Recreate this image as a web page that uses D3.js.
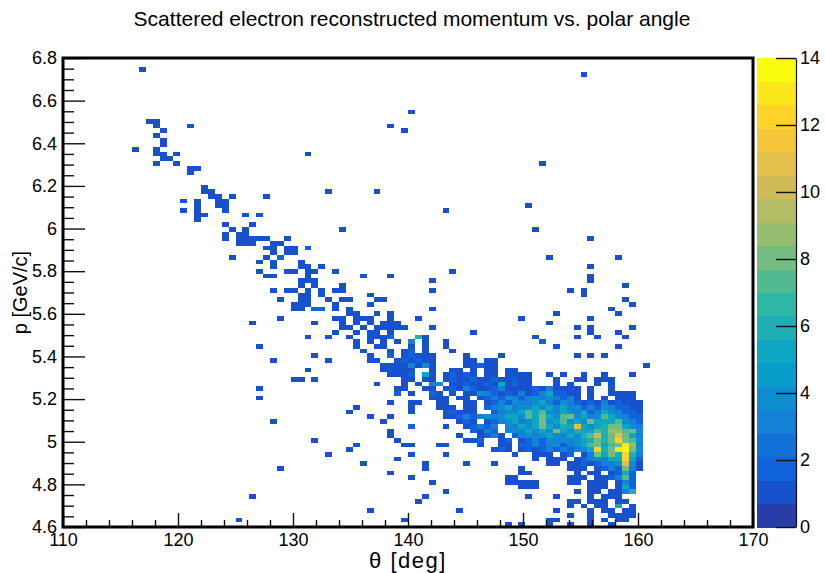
<!DOCTYPE html>
<html>
<head>
<meta charset="utf-8">
<script src="https://cdn.jsdelivr.net/npm/d3@7"></script>
<style>
  body { margin: 0; background: #fff; }
  text { font-family: "Liberation Sans", Arial, Helvetica, sans-serif; fill: #000; }
</style>
</head>
<body>
<svg id="chart" width="825" height="573"></svg>
<script>
// Histogram binning: 100 x 100 bins over theta [110,170] deg and p [4.6,6.8] GeV/c
const thetaDomain = [110, 170];
const pDomain = [4.6, 6.8];
const thetaBinCount = 100;
const pBinCount = 100;
const zDomain = [0, 14];
const contourLevels = 20;

const thetaMajorTicks = [110, 120, 130, 140, 150, 160, 170];
const pMajorTicks = [4.6, 4.8, 5, 5.2, 5.4, 5.6, 5.8, 6, 6.2, 6.4, 6.6, 6.8];
const zTicks = [0, 2, 4, 6, 8, 10, 12, 14];

// Bin contents, one string per p bin: "pBin: thetaBin thetaBin:count ..."
// (a bare theta bin holds one entry)
const binRows = [
  "97: 11",
  "96: 75",
  "88: 50",
  "86: 12 13",
  "85: 13 18 47",
  "84: 14 49",
  "83: 13",
  "82: 14",
  "81: 14",
  "80: 10 13",
  "79: 13 14 16 35",
  "78: 14 15",
  "77: 13 16 69",
  "76: 18 19",
  "75: 18",
  "72: 20",
  "71: 20 21 38 45",
  "70: 21 22 24 29",
  "69: 17 19 22 23",
  "68: 19 22 23 67",
  "67: 17 19 23 55",
  "66: 19 20 26 28",
  "65: 19",
  "64: 23 27",
  "63: 24 26 40 68",
  "62: 23 25 26",
  "61: 23 25 26 27 28 29 32 76",
  "60: 25 26 27 30 31",
  "59: 29 30 32 33 35:2",
  "58: 30 32 33",
  "57: 24 29 31:2 70 80",
  "56: 28 30 34",
  "55: 30 34 35 37 76",
  "54: 28 32 33 35 36 39 56",
  "53: 29 30 35 43 47 76",
  "52: 34 35 36 53 76",
  "51: 34 36 40 81",
  "50: 30 32 33 35 37 39 40 53 73 75",
  "49: 34 35 37 44 75",
  "48: 31 34 35 38 40 41 45 46 81",
  "47: 33 34 35 39 44 82",
  "46: 33 34 36:2 37:2 39 41 53 79",
  "45: 41 42 45 47 71 80",
  "44: 31 39 40 42 43 44 47 51 66 76",
  "43: 27 36 40 42 44 46 47 48 70",
  "42: 40 41 43 45 46 47 48 49 53 74 76 82",
  "41: 39 42 44 45 47 59 76 80",
  "40: 35 38 41 44 45 46 47:2 51:6 52 68 74 77 81",
  "39: 42 44 46 48 50:3 52 55 69:2",
  "38: 28 42 45 46 50 52 55 71 80",
  "37: 43 47 49 50:2 52 56",
  "36: 36 44 47:2 49 50:2 51 52 53 58 63 74 76 78",
  "35: 30 38 44 45 48 49:2 50 51:2 52 53 58 59 61 62",
  "34: 46 47 48 49 50:3 51 52:4 53 58 59 60:2 61 62 84",
  "33: 35 46 47 48 49 50 53 56 57 59 61 62 64 65",
  "32: 47 48 49 50:2 52:5 53 55 56:2 57 58:2 59 61 62 64 65 66 67 70 72 75 78 82",
  "31: 33 34 36 49 50 52 53 55 56:2 57 58 59:2 60 61 62:2 63 64 65:2 66 67 71 74 75 77 78 79",
  "30: 45 49 51 53:3 54:4 56 57 58:2 59 60 61:2 62 63:5 64 65:2 66 67 71 73 77 79",
  "29: 28 48 49 52 53 55 56:2 57 58:3 59:2 60 61 62:2 63:3 64 65 66 67 68:2 69 70:3 71 72 73 74 76 79",
  "28: 48:2 50 53:2 54 56 58 59 60:4 61:3 62:2 63 64:2 65 66:3 67 68:2 69:3 70:5 71:2 72:2 73 74 76 79 80 81 82",
  "27: 28 53 54 55 57 58 60 61:2 62:3 63:2 64:4 65:3 66:2 67:3 68:4 69:3 70:4 71:3 72:2 73:3 74 76 78 80 81 82",
  "26: 47 50 51 54 55 58 59 61 62:2 63:3 64:2 65:4 66:3 67:3 68:4 69:5 70:3 71:2 72:4 73:3 74:2 75 76:2 77 78:3 79 80:2 81 82 83",
  "25: 42 50 54 55 56 58 59 61:2 62:3 63:4 64:5 65:3 66:4 67:4 68:5 69:4 70:5 71:3 72:5 73:3 74:4 75:2 76:3 77:2 78:4 79:3 80:2 81:2 82 83",
  "24: 41 50 55 56:2 57 58 59 62:2 63:3 64:4 65:4 66:5 67:7 68:5 69:7 70:4 71:3 72:5 73:4 74:3 75:5 76:2 77:3 78:5 79:4 80:3 81:2 82:2 83",
  "23: 44 47 55 56 57:2 58:3 59:2 60:3 61:4 62:3 63:4 64:5 65:5 66:4 67:7 68:5 69:8 70:5 71:4 72:7 73:8 74:4 75:5 76:3 77:4 78:7 79:5 80:4 81:3 82:2 83:2",
  "22: 30 46 57 58:2 59 61 62:2 63:3 64:4 65:5 66:3 67:4 68:5 69:8 70:4 71:5 72:7 73:4 74:5 75:4 76:8 77:5 78:5 79:5 80:7 81:4 82:3 83:2",
  "21: 50:2 55 58 59:2 60:3 61:2 62:3 64:4 65:3 66:5 67:4 68:5 69:8 70:5 71:4 72:6 73:5 74:11 75:5 76:4 77:5 78:6 79:8 80:8 81:5 82:4 83:3",
  "20: 47 59:2 60 61:3 62:2 64:3 65:4 66:3 67:5 68:4 69:5 70:4 71:8 72:5 73:4 74:6 75:5 76:5 77:7 78:6 79:9 80:9 81:7 82:8 83:4",
  "19: 47 57 60 61:2 62:3 63 65:2 66:3 67:4 68:3 69:4 70:5 71:4 72:3 73:5 74:4 75:6 76:7 77:10 78:6 79:8 80:11 81:8 82:5 83:3",
  "18: 36 48 58 59 60:2 63 64:2 66 67:2 68:3 69:2 70:4 71:3 72:4 73:3 74:4 75:5 76:6 77:8 78:6 79:8 80:12 81:8 82:7 83:4",
  "17: 42 49 50 54 55 60 63 64 66:2 67:2 68:3 69:2 70:3 71:4 72:2 73:3 74:4 75:5 76:7 77:8 78:5 79:7 80:8 81:13 82:9 83:3",
  "16: 41 62 63:2 64 66 67:2 68 69:2 70:3 71:2 72:3 73:2 74:3 75:4 76:5 77:12 78:6 79:8 80:13 81:14 82:8 83:4",
  "15: 38 50 55 65 68 69 70 72 73:2 75 76:3 77:8 78:5 79:8 80:6 81:12 82:6 83:3",
  "14: 48 68 70 71 72 74 75:2 76:3 77:4 78:3 79:5 80:5 81:12 82:5 83:2",
  "13: 43 52 58 62 70 71 73 74 75:2 76 77:2 78:3 79:3 80:4 81:11 82:4 83",
  "12: 31 52 66 73 74 75 77 78:2 79:3 80:2 81:8 82:3 83",
  "11: 47 66 67 74 76 77 79 80:2 81:5 82:2",
  "10: 50 64 65 73 74 75 77 78 79:2 80:3 81:7 82:2",
  "9: 53 64 65 66 67 68 73 74 76 77 78 80 81:3 82:2",
  "8: 66 67 68 76 77 78 80 81:5 82:2",
  "7: 55 74 76 77 79 80 81:3 82:6",
  "6: 27 52 67 71 76 78 79 80",
  "5: 51 73 74 76 77 78 80 81",
  "4: 73 75 77 78 80:5 82",
  "3: 44 57 71 76 78 79 81 82",
  "2: 73 76 79 80 81 82",
  "1: 25 49 70 71 76 78 80 81",
  "0: 64 66 70 73 76 79"
];

// ---- parse bins ----
const cells = [];
binRows.forEach(row => {
  const k = row.indexOf(":");
  const pBin = +row.slice(0, k);
  row.slice(k + 1).trim().split(/\s+/).forEach(tok => {
    const [t, c] = tok.split(":");
    cells.push({ tBin: +t, pBin: pBin, count: c === undefined ? 1 : +c });
  });
});

const thetaWidth = (thetaDomain[1] - thetaDomain[0]) / thetaBinCount;
const pWidth = (pDomain[1] - pDomain[0]) / pBinCount;

// ---- layout ----
const frame = { left: 63, right: 753, top: 58, bottom: 527 };
const palette = { left: 757, right: 796 };

const svg = d3.select("#chart");

const x = d3.scaleLinear().domain(thetaDomain).range([frame.left, frame.right]);
const y = d3.scaleLinear().domain(pDomain).range([frame.bottom, frame.top]);
const z = d3.scaleLinear().domain(zDomain).range([frame.bottom, frame.top]);

// ROOT "bird" colour palette
const birdStops = [0.0, 0.125, 0.25, 0.375, 0.5, 0.625, 0.75, 0.875, 1.0];
const birdR = [0.2082, 0.0592, 0.0780, 0.0232, 0.1802, 0.5301, 0.8186, 0.9956, 0.9764];
const birdG = [0.1664, 0.3599, 0.5041, 0.6419, 0.7178, 0.7492, 0.7328, 0.7862, 0.9832];
const birdB = [0.5293, 0.8684, 0.8385, 0.7914, 0.6425, 0.4662, 0.3499, 0.1968, 0.0539];
const bird = d3.scaleLinear()
  .domain(birdStops)
  .range(birdStops.map((s, k) => d3.rgb(birdR[k] * 255, birdG[k] * 255, birdB[k] * 255)))
  .interpolate(d3.interpolateRgb);

function levelColor(level) {
  const idx = Math.floor((level + 0.99) * 255 / contourLevels);
  return bird(Math.min(idx, 254) / 254);
}
const levelStep = (zDomain[1] - zDomain[0]) / contourLevels;
function countColor(c) {
  const level = Math.min(contourLevels - 1, Math.floor((c - zDomain[0]) / levelStep + 1e-9));
  return levelColor(level);
}

// ---- title ----
svg.append("text")
  .attr("x", 412).attr("y", 26)
  .attr("text-anchor", "middle")
  .style("font-size", "21px")
  .text("Scattered electron reconstructed momentum vs. polar angle");

// ---- histogram cells ----
svg.append("g").selectAll("rect")
  .data(cells)
  .join("rect")
  .attr("x", d => x(thetaDomain[0] + d.tBin * thetaWidth))
  .attr("y", d => y(pDomain[0] + (d.pBin + 1) * pWidth))
  .attr("width", d => x(thetaDomain[0] + (d.tBin + 1) * thetaWidth) - x(thetaDomain[0] + d.tBin * thetaWidth))
  .attr("height", d => y(pDomain[0] + d.pBin * pWidth) - y(pDomain[0] + (d.pBin + 1) * pWidth))
  .attr("fill", d => countColor(d.count))
  .attr("shape-rendering", "crispEdges");

// ---- axes ----
function styleAxis(g) {
  g.select(".domain").remove();
  g.selectAll("line").attr("stroke", "#111").attr("stroke-width", 1.4);
  g.selectAll("text").style("font-size", "18px").attr("fill", "#000");
}

const thetaMinor = d3.range(110, 170.001, 2).filter(v => v % 10 !== 0);
const pMinor = d3.range(0, 45).map(k => +(4.6 + k * 0.05).toFixed(2)).filter(v => v <= 6.8 && Math.abs(v * 5 - Math.round(v * 5)) > 1e-6);

svg.append("g")
  .attr("transform", `translate(0,${frame.bottom})`)
  .call(d3.axisBottom(x).tickValues(thetaMinor).tickSize(-7).tickFormat(""))
  .call(styleAxis);
svg.append("g")
  .attr("transform", `translate(0,${frame.bottom})`)
  .call(d3.axisBottom(x).tickValues(thetaMajorTicks).tickSize(-14).tickPadding(6).tickFormat(d3.format("d")))
  .call(styleAxis);

svg.append("g")
  .attr("transform", `translate(${frame.left},0)`)
  .call(d3.axisLeft(y).tickValues(pMinor).tickSize(-11).tickFormat(""))
  .call(styleAxis);
svg.append("g")
  .attr("transform", `translate(${frame.left},0)`)
  .call(d3.axisLeft(y).tickValues(pMajorTicks).tickSize(-22).tickPadding(6).tickFormat(d => d3.format("~g")(d)))
  .call(styleAxis);

// ---- frame ----
svg.append("rect")
  .attr("x", frame.left).attr("y", frame.top)
  .attr("width", frame.right - frame.left)
  .attr("height", frame.bottom - frame.top)
  .attr("fill", "none").attr("stroke", "#000").attr("stroke-width", 3);

// ---- axis titles ----
svg.append("text")
  .attr("x", (frame.left + frame.right) / 2).attr("y", 568)
  .attr("text-anchor", "middle")
  .style("font-size", "22px")
  .style("letter-spacing", "1.5px")
  .text("θ [deg]");
svg.append("text")
  .attr("transform", `translate(27,${(frame.top + frame.bottom) / 2}) rotate(-90)`)
  .attr("text-anchor", "middle")
  .style("font-size", "20px")
  .text("p [GeV/c]");

// ---- colour palette bar ----
const bands = d3.range(contourLevels);
svg.append("g").selectAll("rect")
  .data(bands)
  .join("rect")
  .attr("x", palette.left)
  .attr("y", k => z(zDomain[0] + (k + 1) * levelStep))
  .attr("width", palette.right - palette.left)
  .attr("height", k => z(zDomain[0] + k * levelStep) - z(zDomain[0] + (k + 1) * levelStep) + 0.5)
  .attr("fill", k => levelColor(k))
  .attr("shape-rendering", "crispEdges");

svg.append("g")
  .attr("transform", `translate(${palette.right},0)`)
  .call(d3.axisRight(z).tickValues(zTicks).tickSize(-20).tickSizeOuter(0).tickPadding(4).tickFormat(d3.format("d")))
  .call(g => {
    g.select(".domain").attr("stroke", "#111").attr("stroke-width", 1.2);
    g.selectAll("line").attr("stroke", "#111").attr("stroke-width", 1.4);
    g.selectAll("text").style("font-size", "18px").attr("fill", "#000");
  });
</script>
</body>
</html>
